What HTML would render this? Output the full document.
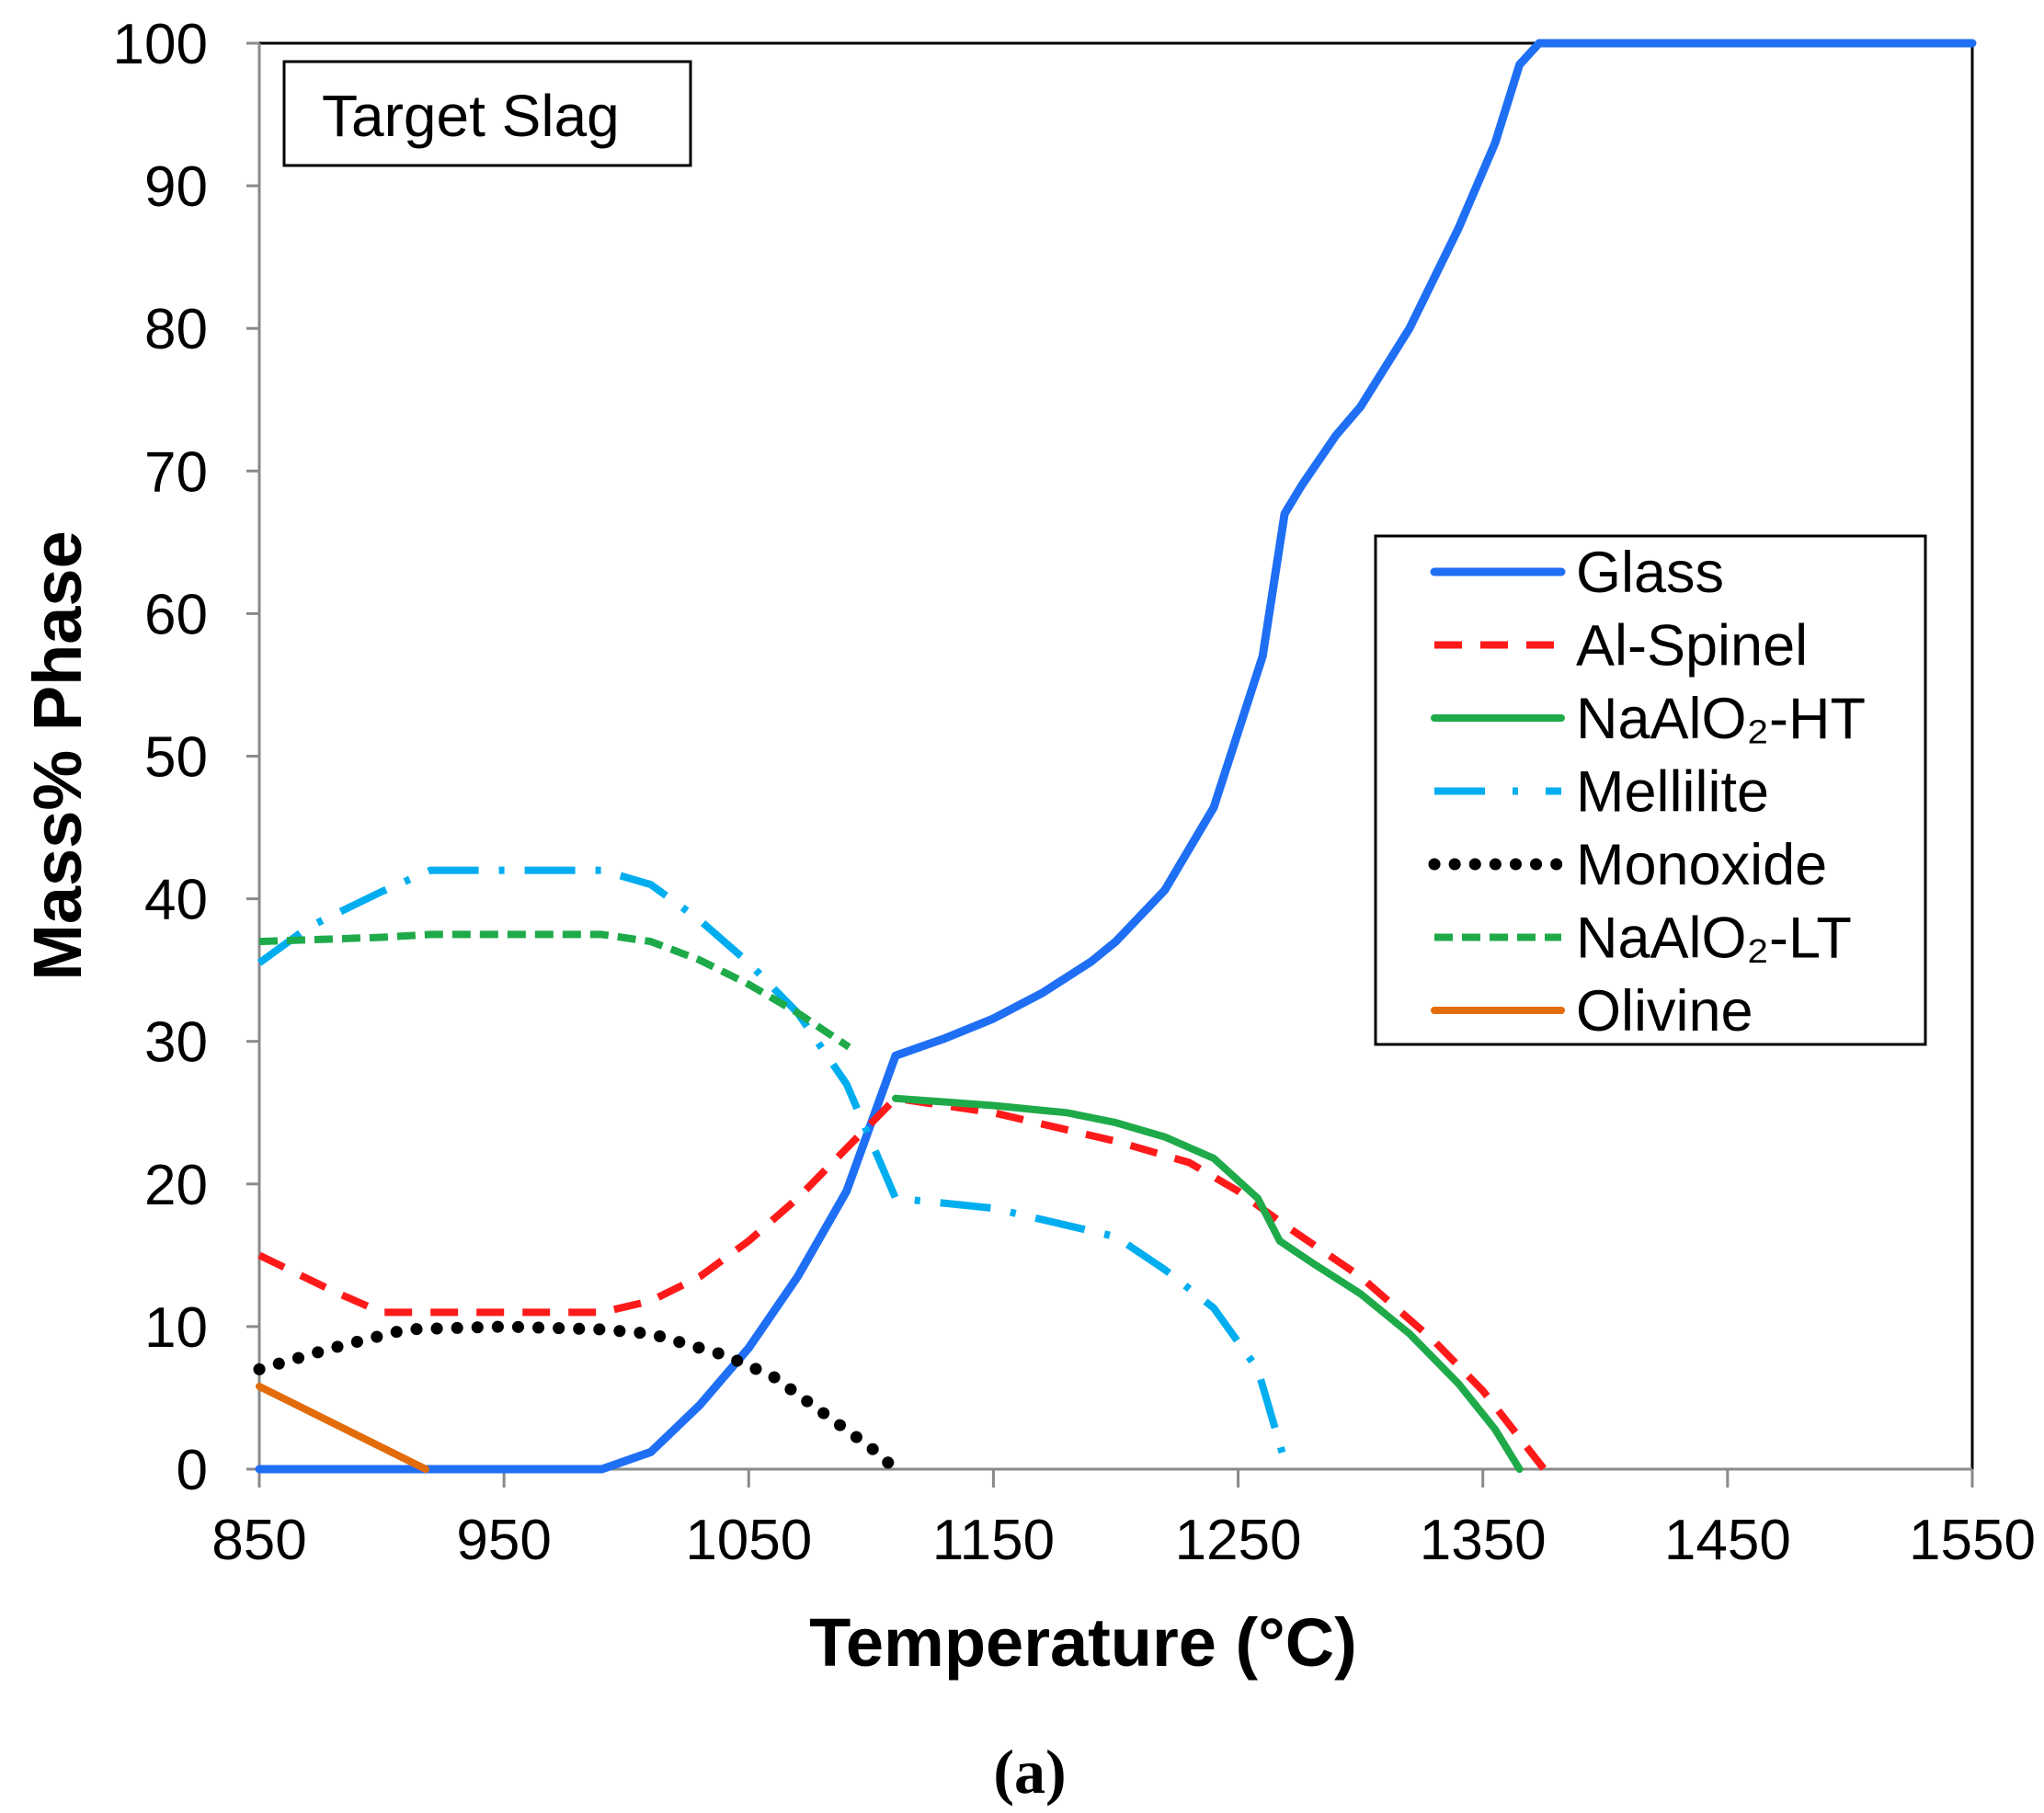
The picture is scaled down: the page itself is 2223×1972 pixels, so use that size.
<!DOCTYPE html>
<html><head><meta charset="utf-8"><style>
html,body{margin:0;padding:0;background:#fff;}
svg{display:block;font-family:"Liberation Sans",sans-serif;}
</style></head><body>
<svg id="chart" width="2223" height="1972" viewBox="0 0 2223 1972" xmlns="http://www.w3.org/2000/svg">
<g id="grid"></g>
<g id="series"></g>
<g id="legend"></g>
</svg>
<script>
const xTicks=[850,950,1050,1150,1250,1350,1450,1550];
const yTicks=[0,10,20,30,40,50,60,70,80,90,100];
const glassT=[850,990,1010,1030,1050,1070,1090,1110,1130,1150,1170,1190,1200,1220,1240,1260,1269,1276,1290,1300,1320,1340,1355,1365,1373,1550];
const glassV=[0,0,1.2,4.5,8.5,13.5,19.5,29,30.2,31.6,33.4,35.6,37,40.6,46.4,57,67,69,72.5,74.5,80,87,93,98.5,100,100];
const spinelT=[850,880,900,920,990,1010,1030,1050,1070,1090,1110,1150,1200,1230,1250,1270,1300,1330,1350,1375];
const spinelV=[15,12.5,11,11,11,11.8,13.5,16,19,22.5,26,25,23,21.5,19.5,17,13.5,9,5.5,0];
const htT=[1110,1150,1180,1200,1220,1240,1258,1267,1280,1300,1320,1340,1355,1365];
const htV=[26,25.5,25,24.3,23.3,21.8,19,16,14.5,12.3,9.5,6,2.8,0];
const melT=[850,870,900,920,940,990,1010,1030,1050,1070,1090,1100,1110,1150,1200,1220,1240,1258,1270];
const melV=[35.5,38,40.5,42,42,42,41,38.5,35.5,32,27,23,19,18.3,16.3,14,11.3,7,0];
const monoT=[850,880,910,950,990,1010,1040,1060,1080,1100,1110];
const monoV=[7,8.5,9.8,10,9.8,9.5,8,6.5,4,1.5,0];
const ltT=[850,900,920,990,1010,1030,1050,1070,1091];
const ltV=[37,37.3,37.5,37.5,37,35.7,34,32,29.6];
const olT=[850,918];
const olV=[5.8,0];
const legendLabels=["Glass","Al-Spinel","NaAlO₂-HT","Mellilite","Monoxide","NaAlO₂-LT","Olivine"];

const X0=282,X1=2145,Y0=1598,Y1=47;
const sx=t=>X0+(t-850)/(1550-850)*(X1-X0);
const sy=v=>Y0-(v/100)*(Y0-Y1);
const NS="http://www.w3.org/2000/svg";
function mk(tag,attrs,parent,text){const e=document.createElementNS(NS,tag);for(const k in attrs)e.setAttribute(k,attrs[k]);if(text!==undefined)e.textContent=text;parent.appendChild(e);return e;}
const grid=document.getElementById('grid');
const ser=document.getElementById('series');
const leg=document.getElementById('legend');

let e=mk('line',{x1:X0,y1:Y1,x2:X1,y2:Y1,stroke:'#000','stroke-width':3},grid);

e=mk('line',{x1:X1,y1:Y1,x2:X1,y2:Y0,stroke:'#000','stroke-width':3},grid);

e=mk('line',{x1:X0,y1:Y1,x2:X0,y2:Y0,stroke:'#8a8a8a','stroke-width':3},grid);

e=mk('line',{x1:X0-14,y1:Y0,x2:X1,y2:Y0,stroke:'#8a8a8a','stroke-width':3},grid);


yTicks.forEach(v=>{
  let t=mk('line',{x1:X0-14,y1:sy(v),x2:X0,y2:sy(v),stroke:'#8a8a8a','stroke-width':3},grid);
  
  let l=mk('text',{x:X0-56,y:sy(v)+22,'font-size':62,'text-anchor':'end',fill:'#000'},grid,String(v));
  
});
xTicks.forEach(v=>{
  let t=mk('line',{x1:sx(v),y1:Y0,x2:sx(v),y2:Y0+20,stroke:'#8a8a8a','stroke-width':3},grid);
  
  let l=mk('text',{x:sx(v),y:Y0+98,'font-size':62,'text-anchor':'middle',fill:'#000'},grid,String(v));
  
});
e=mk('text',{x:1178,y:1812,'font-size':74,'font-weight':'bold','text-anchor':'middle'},grid,'Temperature (°C)');

e=mk('text',{x:0,y:0,'font-size':74,'font-weight':'bold','text-anchor':'middle',transform:'translate(88,822) rotate(-90)'},grid,'Mass% Phase');

e=mk('text',{x:1120,y:1950,'font-size':68,'font-weight':'bold','text-anchor':'middle','font-family':'Liberation Serif, serif'},grid,'(a)');

e=mk('rect',{x:309,y:67,width:442,height:113,fill:'#fff',stroke:'#000','stroke-width':3},grid);

e=mk('text',{x:350,y:148,'font-size':64},grid,'Target Slag');


const styles=[
 {T:glassT,V:glassV,c:'#1f6ff5',d:'',cap:'round',w:9,n:'glass-line'},
 {T:spinelT,V:spinelV,c:'#ff1a1a',d:'30 20',cap:'butt',w:8,n:'al-spinel-line'},
 {T:htT,V:htV,c:'#1faa4a',d:'',cap:'round',w:8,n:'naalo2-ht-line'},
 {T:melT,V:melV,c:'#00aeef',d:'55 22 6 22',cap:'butt',w:8,n:'mellilite-line'},
 {T:monoT,V:monoV,c:'#000',d:'0.1 22',cap:'round',w:13,n:'monoxide-line'},
 {T:ltT,V:ltV,c:'#1faa4a',d:'20 10',cap:'butt',w:8,n:'naalo2-lt-line'},
 {T:olT,V:olV,c:'#e36c0a',d:'',cap:'round',w:8,n:'olivine-line'}
];
styles.forEach(s=>{
  const pts=s.T.map((t,i)=>sx(t).toFixed(1)+','+sy(s.V[i]).toFixed(1)).join(' ');
  const p=mk('polyline',{points:pts,fill:'none',stroke:s.c,'stroke-width':s.w,'stroke-dasharray':s.d,'stroke-linecap':s.cap,'stroke-linejoin':'round'},ser);
  
  
});

e=mk('rect',{x:1496,y:583,width:598,height:553,fill:'#fff',stroke:'#000','stroke-width':3},leg);

legendLabels.forEach((lab,i)=>{
  const y=622+i*79.5;const s=styles[i];
  const g=mk('g',{},leg);
  
  
  const d=i===3?'55 30 6 30':s.d;
  mk('line',{x1:1560,y1:y,x2:1698,y2:y,stroke:s.c,'stroke-width':s.w,'stroke-dasharray':d,'stroke-linecap':s.cap},g);
  mk('text',{x:1714,y:y+22,'font-size':63},g,lab);
});
</script>
</body></html>
